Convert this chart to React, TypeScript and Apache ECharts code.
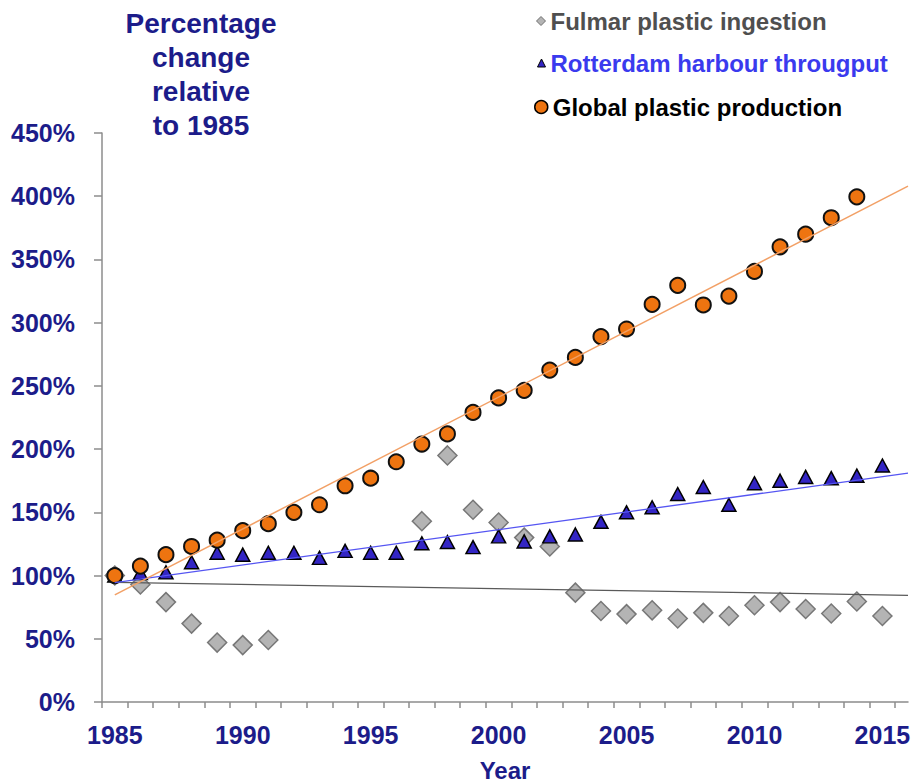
import React, { useEffect, useRef } from "react";
import * as echarts from "echarts";

const YEARS = [
  1985, 1986, 1987, 1988, 1989, 1990, 1991, 1992, 1993, 1994, 1995, 1996,
  1997, 1998, 1999, 2000, 2001, 2002, 2003, 2004, 2005, 2006, 2007, 2008,
  2009, 2010, 2011, 2012, 2013, 2014, 2015,
];

const FULMAR = [
  100, 93, 79, 62, 47, 45, 49, null, null, null, null, null, 143, 195, 152,
  142, 130, 123, 86.5, 72, 69.5, 72.5, 66, 70.5, 68, 76.5, 79, 73.5, 70, 79.5,
  68,
];

const ROTTERDAM = [
  100, 102, 102.5, 110.5, 118, 116.5, 118, 118, 114, 119.5, 118, 118, 125.5,
  126.5, 122.5, 131, 127, 131, 132.5, 142.5, 150, 154, 164.5, 170, 156, 173,
  175, 178, 177, 179, 187,
];

const PLASTIC = [
  100, 107.5, 116.5, 123, 128, 135.5, 141, 150, 156, 171, 177, 190, 204, 212,
  229, 240.5, 246.5, 262.5, 272.5, 289, 295, 314.5, 329.5, 314, 321, 340.5,
  360, 370, 383, 399.5, null,
];

// Trend line end points: [year, percent]
const PLASTIC_TREND = [
  [1985, 84.7],
  [2016, 408],
];
const ROTTERDAM_TREND = [
  [1985, 94.4],
  [2016, 181],
];
const FULMAR_TREND = [
  [1985, 94.6],
  [2016, 84.4],
];

const X_LABELS = [1985, 1990, 1995, 2000, 2005, 2010, 2015];
const X_TICKS = [
  1984.5, 1985.5, 1986.5, 1987.5, 1988.5, 1989.5, 1990.5, 1991.5, 1992.5,
  1993.5, 1994.5, 1995.5, 1996.5, 1997.5, 1998.5, 1999.5, 2000.5, 2001.5,
  2002.5, 2003.5, 2004.5, 2005.5, 2006.5, 2007.5, 2008.5, 2009.5, 2010.5,
  2011.5, 2012.5, 2013.5, 2014.5, 2015.5,
];

const TITLE = "Percentage\nchange\nrelative\nto 1985";
const NAME_FULMAR = "Fulmar plastic ingestion";
const NAME_ROTTERDAM = "Rotterdam harbour througput";
const NAME_PLASTIC = "Global plastic production";

const NAVY = "#1c1c8a";
const FONT = "'Liberation Sans', Arial, Helvetica, sans-serif";

function pairs(vals: (number | null)[]) {
  const out: number[][] = [];
  YEARS.forEach((y, i) => {
    const v = vals[i];
    if (v !== null && v !== undefined) out.push([y, v]);
  });
  return out;
}

export default function App() {
  const ref = useRef<HTMLDivElement>(null);

  useEffect(() => {
    if (!ref.current) return;
    const chart = echarts.init(ref.current, undefined, { renderer: "svg" });
    const legendText = { fontSize: 24, fontWeight: "bold", fontFamily: FONT };
    chart.setOption({
      animation: false,
      backgroundColor: "#ffffff",
      grid: {
        left: 102,
        right: 4,
        top: 133,
        bottom: 81,
        containLabel: false,
        outerBoundsMode: "none",
      },
      graphic: [
        {
          type: "text",
          x: 201,
          y: 6,
          style: {
            text: TITLE,
            textAlign: "center",
            textVerticalAlign: "top",
            lineHeight: 34,
            fontSize: 28,
            fontWeight: "bold",
            fontFamily: FONT,
            fill: NAVY,
          },
        },
      ],
      legend: [
        {
          data: [{ name: NAME_FULMAR, textStyle: { color: "#4f4f4f" } }],
          left: 536,
          top: 9,
          padding: 0,
          itemWidth: 9,
          itemHeight: 9,
          itemStyle: { borderWidth: 1, borderColor: "#707070", opacity: 1 },
          textStyle: legendText,
          selectedMode: false,
        },
        {
          data: [{ name: NAME_ROTTERDAM, textStyle: { color: "#3a3aee" } }],
          left: 537,
          top: 51,
          padding: 0,
          itemWidth: 8,
          itemHeight: 8,
          itemStyle: { borderWidth: 1, borderColor: "#000000", opacity: 1 },
          textStyle: legendText,
          selectedMode: false,
        },
        {
          data: [{ name: NAME_PLASTIC, textStyle: { color: "#000000" } }],
          left: 534,
          top: 95,
          padding: 0,
          itemWidth: 13,
          itemHeight: 13,
          itemStyle: { borderWidth: 1.5, borderColor: "#000000", opacity: 1 },
          textStyle: legendText,
          selectedMode: false,
        },
      ],
      xAxis: {
        type: "value",
        min: 1984.5,
        max: 2016,
        name: "Year",
        nameLocation: "middle",
        nameGap: 56,
        nameTextStyle: {
          fontSize: 24,
          fontWeight: "bold",
          fontFamily: FONT,
          color: NAVY,
        },
        splitLine: { show: false },
        axisLine: { lineStyle: { color: "#8c8c8c", width: 1.5 } },
        axisTick: {
          customValues: X_TICKS,
          length: 6,
          lineStyle: { color: "#8c8c8c", width: 1.5 },
        },
        axisLabel: {
          customValues: X_LABELS,
          formatter: (v: number) => String(v),
          margin: 20,
          fontSize: 25,
          fontWeight: "bold",
          fontFamily: FONT,
          color: NAVY,
        },
      },
      yAxis: {
        type: "value",
        min: 0,
        max: 450,
        interval: 50,
        splitLine: { show: false },
        axisLine: { show: true, lineStyle: { color: "#8c8c8c", width: 1.5 } },
        axisTick: { show: true, length: 8, lineStyle: { color: "#8c8c8c", width: 1.5 } },
        axisLabel: {
          formatter: "{value}%",
          margin: 27,
          fontSize: 25,
          fontWeight: "bold",
          fontFamily: FONT,
          color: NAVY,
        },
      },
      series: [
        {
          type: "line",
          data: FULMAR_TREND,
          showSymbol: false,
          silent: true,
          lineStyle: { color: "#5a5a5a", width: 1.3 },
        },
        {
          type: "line",
          data: ROTTERDAM_TREND,
          showSymbol: false,
          silent: true,
          lineStyle: { color: "#5555f2", width: 1.3 },
        },
        {
          type: "line",
          data: PLASTIC_TREND,
          showSymbol: false,
          silent: true,
          lineStyle: { color: "#f2a066", width: 1.5 },
        },
        {
          name: NAME_FULMAR,
          type: "scatter",
          data: pairs(FULMAR),
          symbol: "diamond",
          symbolSize: 19,
          itemStyle: {
            color: "#b4b4b4",
            borderColor: "#777777",
            borderWidth: 1.5,
            opacity: 1,
          },
        },
        {
          name: NAME_ROTTERDAM,
          type: "scatter",
          data: pairs(ROTTERDAM),
          symbol: "triangle",
          symbolSize: [14, 13],
          itemStyle: {
            color: "#3325c4",
            borderColor: "#000000",
            borderWidth: 1.5,
            opacity: 1,
          },
        },
        {
          name: NAME_PLASTIC,
          type: "scatter",
          data: pairs(PLASTIC),
          symbol: "circle",
          symbolSize: 15,
          itemStyle: {
            color: "#ee7410",
            borderColor: "#111111",
            borderWidth: 2,
            opacity: 1,
          },
        },
      ],
    });
    return () => chart.dispose();
  }, []);

  return (
    <div
      ref={ref}
      style={{ position: "absolute", left: 0, top: 0, width: 912, height: 783 }}
    />
  );
}
